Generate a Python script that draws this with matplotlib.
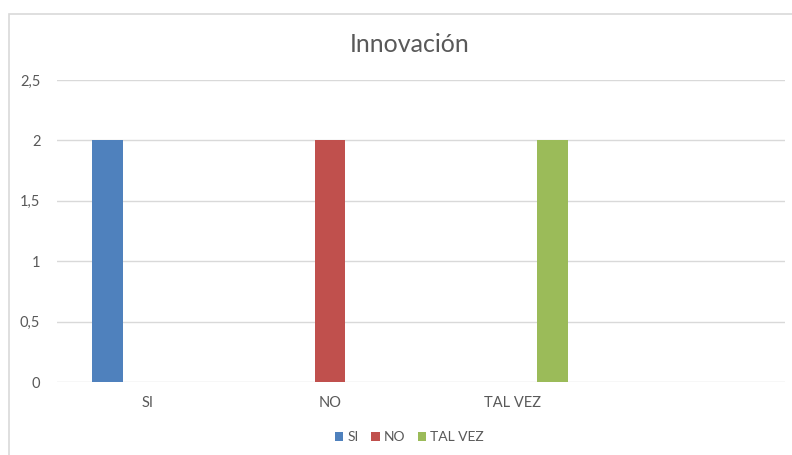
import numpy as np
import matplotlib.pyplot as plt
from matplotlib.patches import Rectangle

plt.rcParams['font.family'] = ['Lato', 'DejaVu Sans']

# chart data
categories = ["SI", "NO", "TAL VEZ", ""]
series_names = ["SI", "NO", "TAL VEZ"]
si_values = [2, 0, 0, 0]
no_values = [0, 2, 0, 0]
tal_vez_values = [0, 0, 2, 0]
yticks = [0, 0.5, 1, 1.5, 2, 2.5]
ytick_labels = ["0", "0,5", "1", "1,5", "2", "2,5"]

colors = ["#4F81BD", "#C0504D", "#9BBB59"]
text_color = "#595959"
grid_color = "#D9D9D9"

fig = plt.figure(figsize=(7.92, 4.55), dpi=100)
ax = fig.add_axes([57 / 792, 1 - 382 / 455, 728 / 792, 302 / 455])

# outer chart frame (only top and left edges are inside the image)
fig.patches.append(Rectangle((9 / 792, -0.1), 1.2, 1 - 14 / 455 + 0.1,
                             transform=fig.transFigure, fill=False,
                             edgecolor=grid_color, linewidth=1.2))

x = np.arange(len(categories))
width = 0.17
offsets = [-0.225, 0, 0.225]
for vals, off, col, name in zip([si_values, no_values, tal_vez_values],
                                offsets, colors, series_names):
    ax.bar(x + off, vals, width, color=col, label=name, zorder=3)

ax.set_xlim(-0.5, len(categories) - 0.5)
ax.set_ylim(0, 2.5)
ax.set_yticks(yticks)
ax.set_yticklabels(ytick_labels)
ax.set_xticks(x)
ax.set_xticklabels(categories)
ax.tick_params(length=0, colors=text_color, labelsize=10.5)
ax.tick_params(axis='y', pad=12)
ax.tick_params(axis='x', pad=10)
ax.grid(axis='y', color=grid_color, linewidth=1, zorder=0)
for s in ax.spines.values():
    s.set_visible(False)

fig.text(0.517, 1 - 44 / 455, "Innovación", ha='center', va='center',
         fontsize=18, color=text_color)

fig.legend(loc='center', bbox_to_anchor=(0.517, 1 - 437 / 455), ncol=3,
           frameon=False, fontsize=10, handlelength=0.6, handleheight=0.6,
           handletextpad=0.3, columnspacing=0.9, labelcolor=text_color)

fig.savefig("out.png", dpi=100)
